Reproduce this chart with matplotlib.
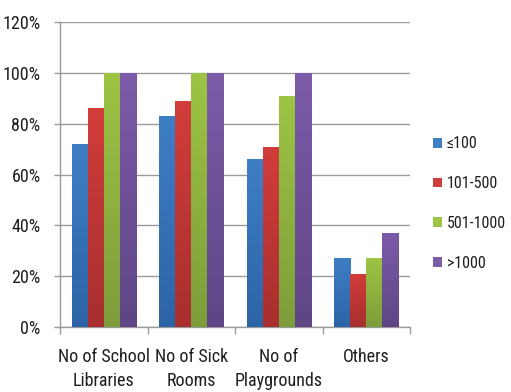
import numpy as np
import matplotlib
matplotlib.use("Agg")
import matplotlib.pyplot as plt
from matplotlib import font_manager
from matplotlib.patches import Patch
from matplotlib.colors import LinearSegmentedColormap

categories = ["No of School\nLibraries", "No of Sick\nRooms", "No of\nPlaygrounds", "Others"]
series_names = ["\u2264100", "101-500", "501-1000", ">1000"]
values = {
    "\u2264100": [72, 83, 66, 27],
    "101-500": [86, 89, 71, 21],
    "501-1000": [100, 100, 91, 27],
    ">1000": [100, 100, 100, 37],
}
y_ticks = [0, 20, 40, 60, 80, 100, 120]
top_colors = ["#3e7ec5", "#d13d3b", "#9dc444", "#7c5ba8"]
bottom_colors = ["#2d64a7", "#a72f2e", "#7e9d3b", "#5e4686"]

available = {f.name for f in font_manager.fontManager.ttflist}
family = "DejaVu Sans"
for cand in ["Liberation Sans Narrow", "Roboto Condensed", "Open Sans Condensed"]:
    if cand in available:
        family = cand
        break
plt.rcParams["font.family"] = [family, "DejaVu Sans"]
plt.rcParams["font.stretch"] = "condensed"
txt = "#1e1e1e"
fs = 13

fig = plt.figure(figsize=(5.11, 3.92), dpi=100)
ax = fig.add_axes([60 / 511, 1 - 327 / 392, 350 / 511, 305 / 392])

x = np.arange(len(categories))
bw = 0.183
grad = np.linspace(1, 0, 64).reshape(-1, 1)
for i, name in enumerate(series_names):
    offs = (i - 1.5) * bw
    bars = ax.bar(x + offs, values[name], width=bw, color=top_colors[i], linewidth=0, zorder=3)
    cmap = LinearSegmentedColormap.from_list(name, [bottom_colors[i], top_colors[i]])
    for b in bars:
        x0, y0 = b.get_x(), b.get_y()
        w, h = b.get_width(), b.get_height()
        im = ax.imshow(grad, cmap=cmap, vmin=0, vmax=1, aspect="auto",
                       extent=[x0, x0 + w, y0, y0 + h], zorder=3.5, interpolation="bilinear")
        im.set_clip_path(b)

ax.set_xlim(-0.5, len(categories) - 0.5)
ax.set_ylim(0, 120)
ax.set_yticks(y_ticks)
ax.set_yticklabels([f"{v}%" for v in y_ticks], fontsize=fs, color=txt)
ax.yaxis.grid(True, color="#9a9a9a", linewidth=1, zorder=0)
ax.set_axisbelow(True)

ax.set_xticks(np.arange(len(categories) + 1) - 0.5)
ax.set_xticklabels([])
ax.tick_params(axis="x", length=5, color="#9a9a9a", width=1)
ax.tick_params(axis="y", length=4, color="#9a9a9a", width=1, pad=10)
for i, cat in enumerate(categories):
    ax.text(i, -8.2, cat, ha="center", va="top", fontsize=fs, color=txt,
            linespacing=1.45, clip_on=False)

for s in ["top", "right"]:
    ax.spines[s].set_visible(False)
for s in ["left", "bottom"]:
    ax.spines[s].set_color("#9a9a9a")
    ax.spines[s].set_linewidth(1)

handles = [Patch(facecolor=c, edgecolor="none") for c in top_colors]
fig.legend(handles, series_names, loc="upper left", bbox_to_anchor=(419 / 511, 1 - 122 / 392),
           frameon=False, fontsize=11.5, handlelength=0.55, handleheight=0.55,
           handletextpad=0.3, labelspacing=1.55, labelcolor=txt)

fig.savefig("out.png", dpi=100)
